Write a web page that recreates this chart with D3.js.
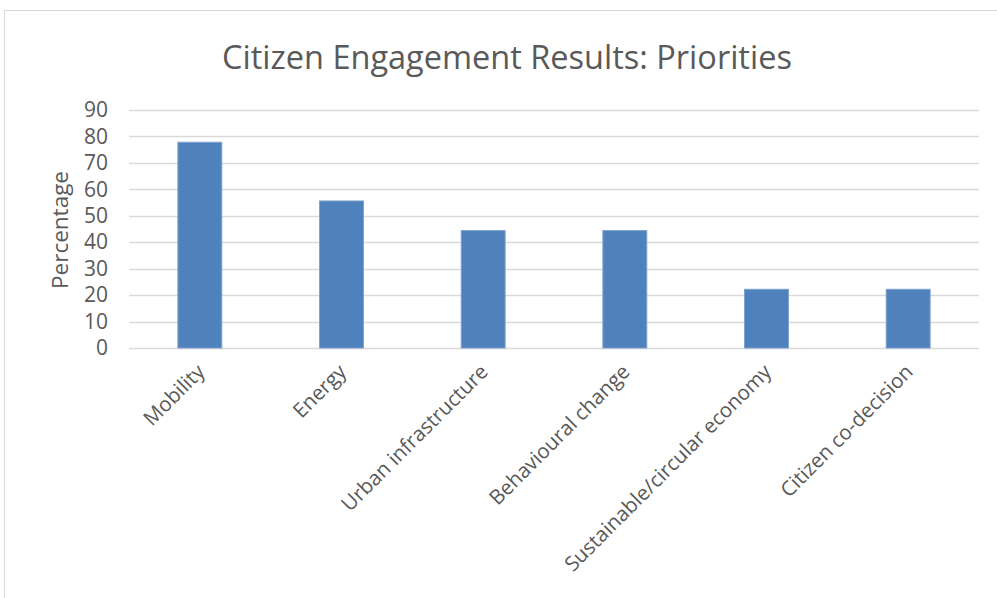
<!DOCTYPE html>
<html>
<head>
<meta charset="utf-8">
<script src="https://cdn.jsdelivr.net/npm/d3@7"></script>
<style>
body { margin: 0; background: #fff; }
text { font-family: "Open Sans", sans-serif; fill: #595959; }
</style>
</head>
<body>
<svg id="chart" width="997" height="598"></svg>
<script>
var categories = ["Mobility", "Energy", "Urban infrastructure", "Behavioural change", "Sustainable/circular economy", "Citizen co-decision"];
var values = [77.8, 55.6, 44.4, 44.4, 22.2, 22.2];
var yTicks = [0, 10, 20, 30, 40, 50, 60, 70, 80, 90];

var svg = d3.select("#chart");

// chart frame
svg.append("rect")
	.attr("x", 4.5).attr("y", 10.5)
	.attr("width", 1100).attr("height", 700)
	.attr("fill", "none")
	.attr("stroke", "#d9d9d9");

var x = d3.scaleBand().domain(categories).range([129, 979]);
var y = d3.scaleLinear().domain([0, 90]).range([348, 110]);

// gridlines
svg.append("g").selectAll("line")
	.data(yTicks)
	.join("line")
	.attr("x1", 129).attr("x2", 979)
	.attr("y1", function(d) { return Math.round(y(d)) + 0.5; })
	.attr("y2", function(d) { return Math.round(y(d)) + 0.5; })
	.attr("stroke", "#d9d9d9")
	.attr("stroke-width", 1.5);

// y axis labels
var yAxis = d3.axisLeft(y).tickValues(yTicks).tickSize(0).tickPadding(0);
var gy = svg.append("g").attr("transform", "translate(108,0)").call(yAxis);
gy.select(".domain").remove();
gy.selectAll("text")
	.attr("font-size", 21)
	.attr("font-family", "Open Sans")
	.attr("fill", "#595959");

// bars
var barW = x.bandwidth() * 0.31;
svg.append("g").selectAll("rect")
	.data(values)
	.join("rect")
	.attr("x", function(d, i) { return x(categories[i]) + (x.bandwidth() - barW) / 2; })
	.attr("y", function(d) { return y(d); })
	.attr("width", barW)
	.attr("height", function(d) { return y(0) - y(d); })
	.attr("fill", "#4f81bd")
	.attr("stroke", "#7ea1cf")
	.attr("stroke-width", 1);

// category labels
svg.append("g").selectAll("text")
	.data(categories)
	.join("text")
	.attr("transform", function(d) {
		return "translate(" + (x(d) + x.bandwidth() / 2 + 1) + ",368) rotate(-45)";
	})
	.attr("text-anchor", "end")
	.attr("dy", "0.35em")
	.attr("font-size", 20.5)
	.text(function(d) { return d; });

// axis title
svg.append("text")
	.attr("transform", "translate(68,230) rotate(-90)")
	.attr("text-anchor", "middle")
	.attr("font-size", 22.5)
	.text("Percentage");

// chart title
svg.append("text")
	.attr("x", 507)
	.attr("y", 69)
	.attr("text-anchor", "middle")
	.attr("font-size", 32.5)
	.text("Citizen Engagement Results: Priorities");
</script>
</body>
</html>
